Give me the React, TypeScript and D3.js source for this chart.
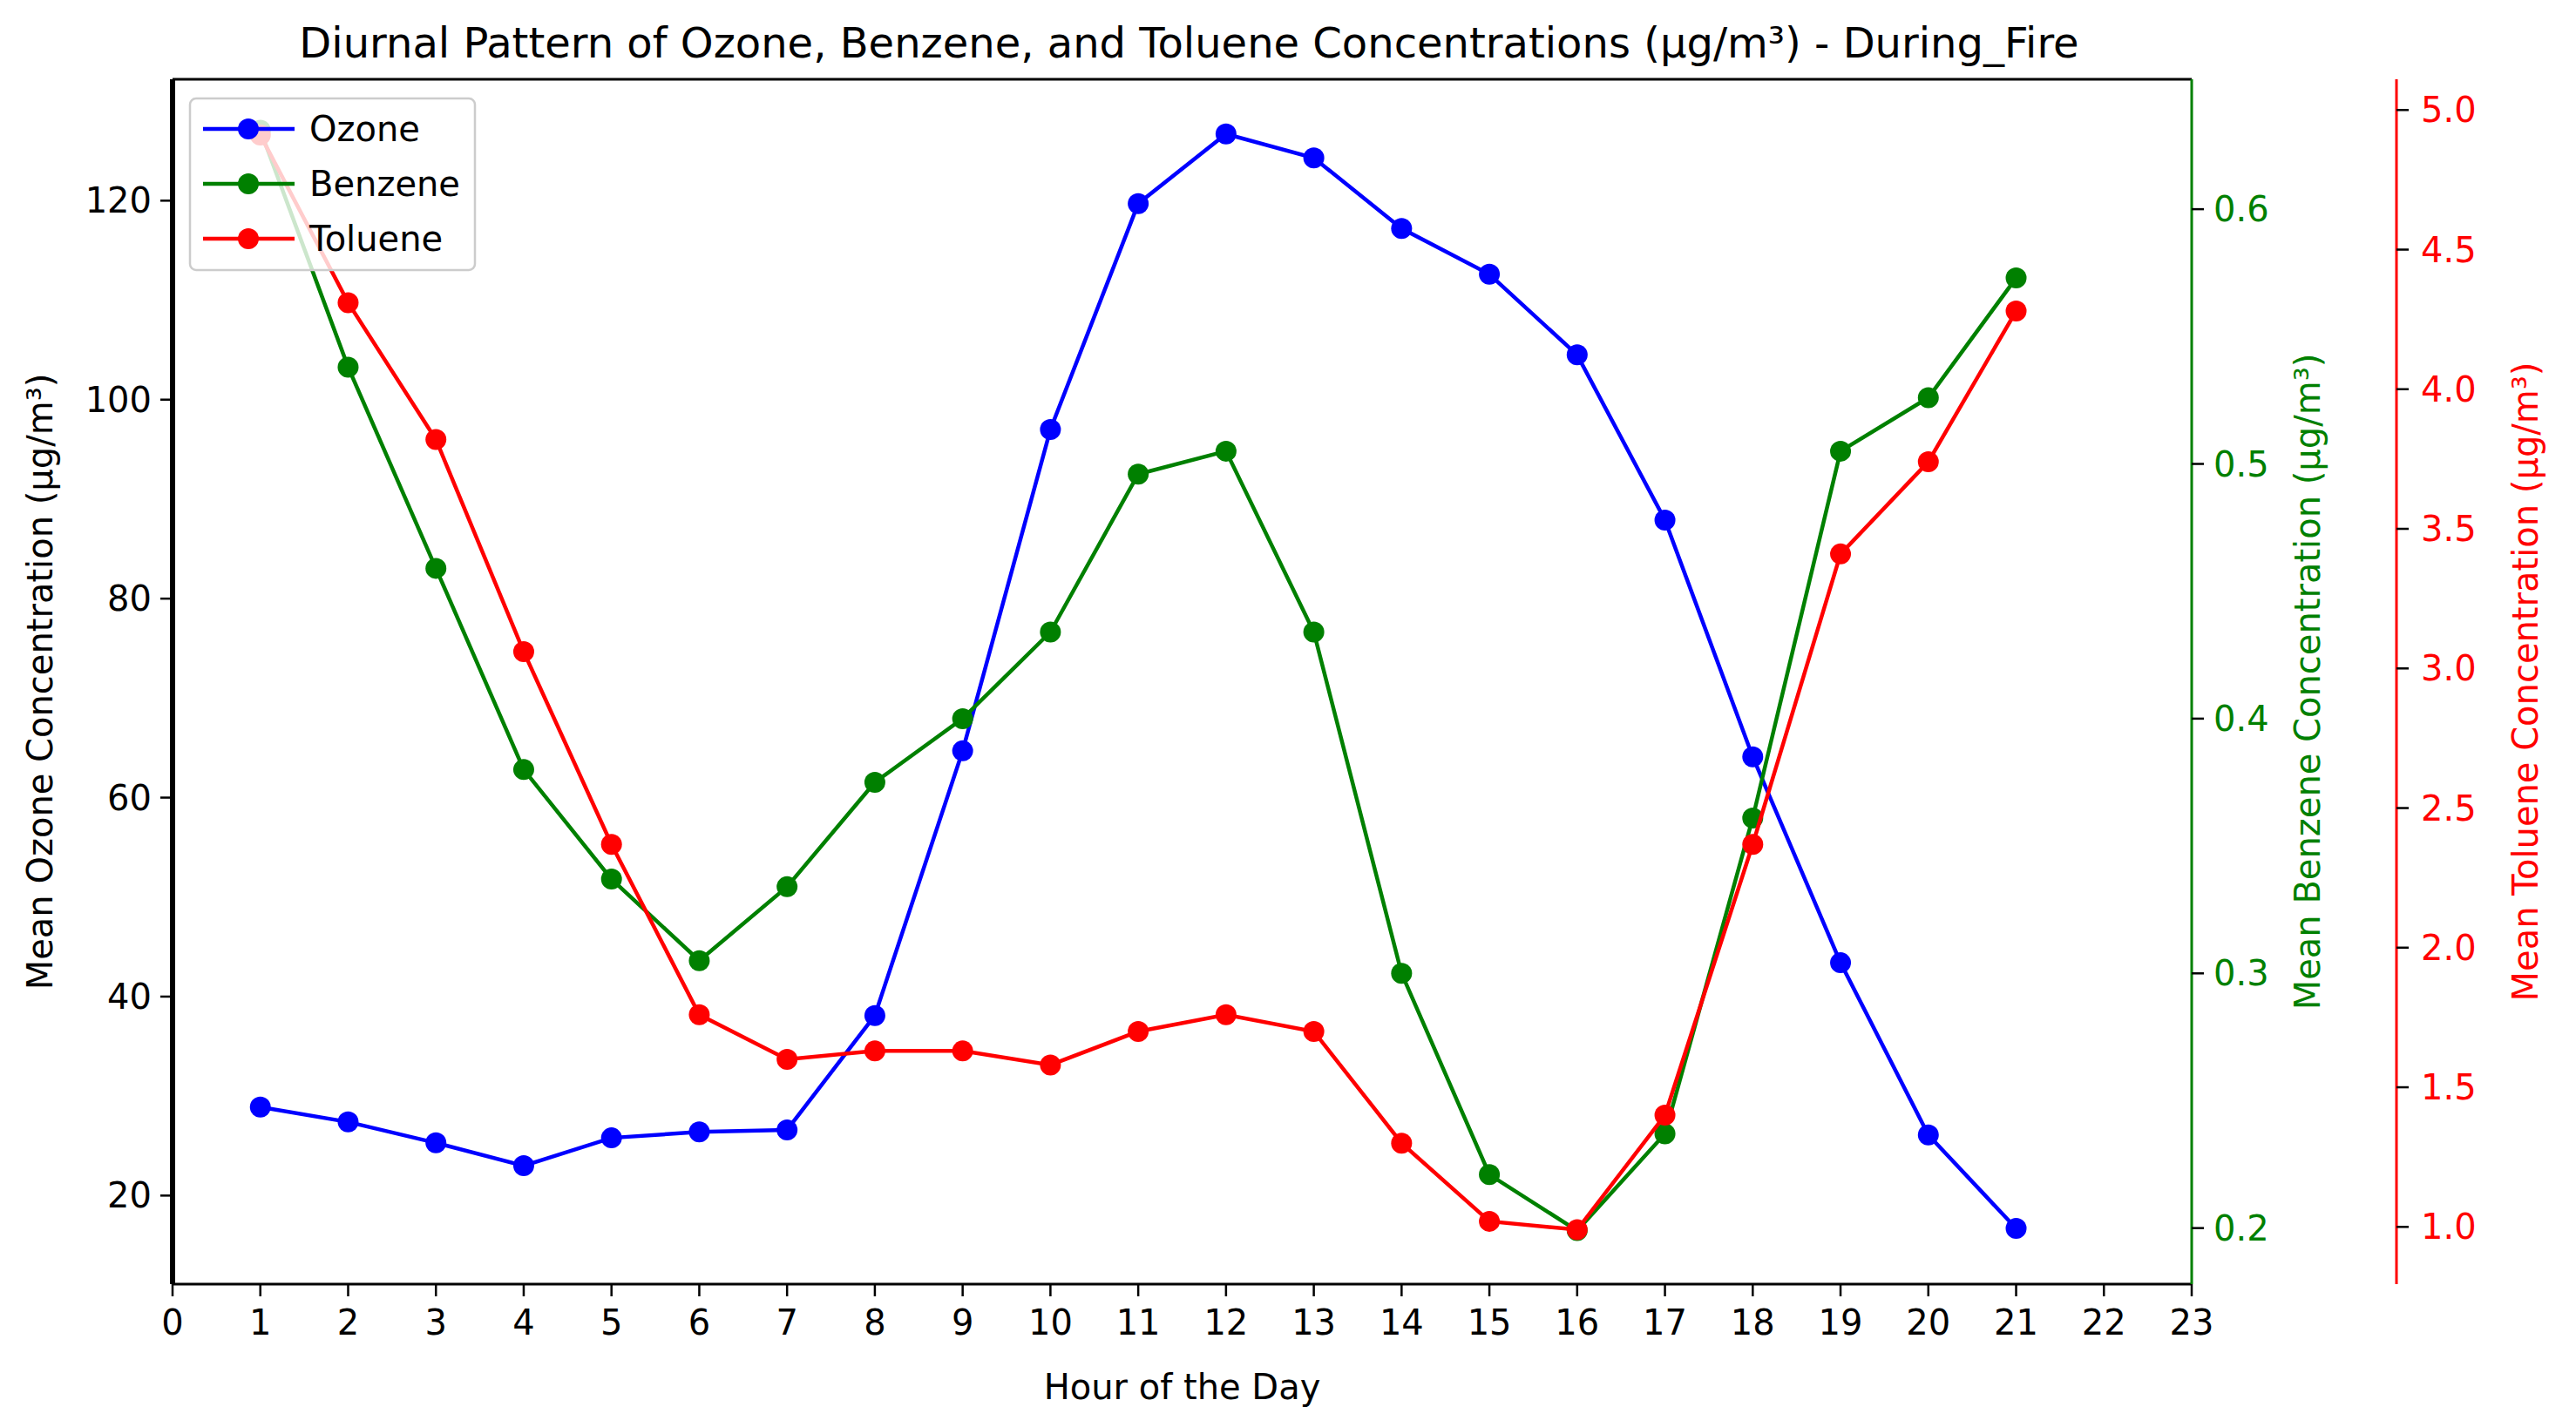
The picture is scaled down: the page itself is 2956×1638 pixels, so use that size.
import React from "react";
import * as d3 from "d3";

const hours = d3.range(1, 22);
const ozone = [28.9, 27.4, 25.3, 23.0, 25.8, 26.4, 26.6, 38.1, 64.7, 97.0, 119.7, 126.7, 124.3, 117.2, 112.6, 104.5, 87.9, 64.1, 43.4, 26.1, 16.7];
const benzene = [0.631, 0.538, 0.459, 0.38, 0.337, 0.305, 0.334, 0.375, 0.4, 0.434, 0.496, 0.505, 0.434, 0.3, 0.221, 0.199, 0.237, 0.361, 0.505, 0.526, 0.573];
const toluene = [4.91, 4.31, 3.82, 3.06, 2.37, 1.76, 1.6, 1.63, 1.63, 1.58, 1.7, 1.76, 1.7, 1.3, 1.02, 0.99, 1.4, 2.37, 3.41, 3.74, 4.28];
const ozoneTicks = [20, 40, 60, 80, 100, 120];
const benzeneTicks = [0.2, 0.3, 0.4, 0.5, 0.6];
const tolueneTicks = [1.0, 1.5, 2.0, 2.5, 3.0, 3.5, 4.0, 4.5, 5.0];
const xTicks = d3.range(0, 24);

const W = 2956, H = 1638;
const L = 198, R = 2515, T = 91, B = 1474, RED = 2750;
const FONT = "DejaVu Sans";
const FS = 40;

export default function App() {
  const x = d3.scaleLinear().domain([0, 23]).range([L, R]);
  const yO = d3.scaleLinear().domain([11.1, 132.2]).range([B, T]);
  const yB = d3.scaleLinear().domain([0.178, 0.651]).range([B, T]);
  const yT = d3.scaleLinear().domain([0.795, 5.11]).range([B, T]);

  const series = [
    { name: "Ozone", color: "blue", vals: ozone, y: yO },
    { name: "Benzene", color: "green", vals: benzene, y: yB },
    { name: "Toluene", color: "red", vals: toluene, y: yT },
  ];

  return (
    <svg width={W} height={H} style={{ position: "absolute", left: 0, top: 0, background: "#fff" }} fontFamily={FONT}>
      <text x={(L + R) / 2 + 8} y={66} textAnchor="middle" fontSize={48}>
        Diurnal Pattern of Ozone, Benzene, and Toluene Concentrations (µg/m³) - During_Fire
      </text>
      {series.map((s) => {
        const line = d3.line<number>().x((_, i) => x(hours[i])).y((d) => s.y(d));
        return (
          <g key={s.name}>
            <path d={line(s.vals) || ""} fill="none" stroke={s.color} strokeWidth={4.5} />
            {s.vals.map((v, i) => (
              <circle key={i} cx={x(hours[i])} cy={s.y(v)} r={12} fill={s.color} />
            ))}
          </g>
        );
      })}
      {/* frame */}
      <line x1={L} x2={R} y1={T} y2={T} stroke="#000" strokeWidth={3} />
      <line x1={L} x2={R} y1={B} y2={B} stroke="#000" strokeWidth={3} />
      <line x1={L} x2={L} y1={T} y2={B} stroke="#000" strokeWidth={6} />
      <line x1={R} x2={R} y1={T} y2={B} stroke="green" strokeWidth={3} />
      <line x1={RED} x2={RED} y1={T} y2={B} stroke="red" strokeWidth={3} />
      {/* x axis */}
      {xTicks.map((t) => (
        <g key={t}>
          <line x1={x(t)} x2={x(t)} y1={B} y2={B + 14} stroke="#000" strokeWidth={2.5} />
          <text x={x(t)} y={B + 58} textAnchor="middle" fontSize={FS}>{t}</text>
        </g>
      ))}
      <text x={(L + R) / 2} y={1606} textAnchor="middle" fontSize={FS}>Hour of the Day</text>
      {/* left axis */}
      {ozoneTicks.map((t) => (
        <g key={t}>
          <line x1={L - 14} x2={L} y1={yO(t)} y2={yO(t)} stroke="#000" strokeWidth={2.5} />
          <text x={L - 24} y={yO(t) + 14} textAnchor="end" fontSize={FS}>{t}</text>
        </g>
      ))}
      <text transform={`translate(60,${(T + B) / 2}) rotate(-90)`} textAnchor="middle" fontSize={FS}>
        Mean Ozone Concentration (µg/m³)
      </text>
      {/* benzene axis */}
      {benzeneTicks.map((t) => (
        <g key={t}>
          <line x1={R} x2={R + 14} y1={yB(t)} y2={yB(t)} stroke="#000" strokeWidth={2.5} />
          <text x={R + 25} y={yB(t) + 14} fontSize={FS} fill="green">{t.toFixed(1)}</text>
        </g>
      ))}
      <text transform={`translate(2662,${(T + B) / 2}) rotate(-90)`} textAnchor="middle" fontSize={FS} fill="green">
        Mean Benzene Concentration (µg/m³)
      </text>
      {/* toluene axis */}
      {tolueneTicks.map((t) => (
        <g key={t}>
          <line x1={RED} x2={RED + 14} y1={yT(t)} y2={yT(t)} stroke="#000" strokeWidth={2.5} />
          <text x={RED + 28} y={yT(t) + 14} fontSize={FS} fill="red">{t.toFixed(1)}</text>
        </g>
      ))}
      <text transform={`translate(2912,${(T + B) / 2}) rotate(-90)`} textAnchor="middle" fontSize={FS} fill="red">
        Mean Toluene Concentration (µg/m³)
      </text>
      {/* legend */}
      <rect x={218} y={113} width={327} height={197} rx={7} fill="#fff" fillOpacity={0.8} stroke="#ccc" strokeWidth={2.5} />
      {series.map((s, i) => (
        <g key={s.name}>
          <line x1={233} x2={338} y1={148 + i * 63} y2={148 + i * 63} stroke={s.color} strokeWidth={4.5} />
          <circle cx={285} cy={148 + i * 63} r={12} fill={s.color} />
          <text x={355} y={162 + i * 63} fontSize={FS}>{s.name}</text>
        </g>
      ))}
    </svg>
  );
}
